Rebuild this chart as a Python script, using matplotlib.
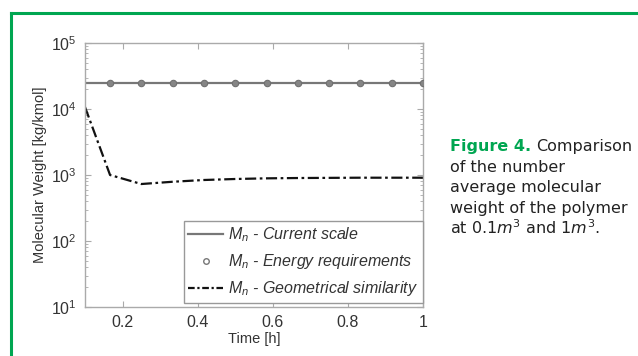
import matplotlib
matplotlib.use("Agg")
import matplotlib.pyplot as plt
from matplotlib.lines import Line2D

plt.rcParams['font.family'] = ['Liberation Sans', 'DejaVu Sans']
plt.rcParams['mathtext.fontset'] = 'custom'
plt.rcParams['mathtext.rm'] = 'Liberation Sans'
plt.rcParams['mathtext.it'] = 'Liberation Sans:italic'

# ---- data ----
time_h = [0.1, 0.1667, 0.25, 0.3333, 0.4167, 0.5, 0.5833, 0.6667, 0.75, 0.8333, 0.9167, 1.0]
mn_current = [24500, 24500, 24500, 24500, 24500, 24500, 24500, 24500, 24500, 24500, 24500, 24500]
time_energy = [0.1667, 0.25, 0.3333, 0.4167, 0.5, 0.5833, 0.6667, 0.75, 0.8333, 0.9167, 1.0]
mn_energy = [24500, 24500, 24500, 24500, 24500, 24500, 24500, 24500, 24500, 24500, 24500]
mn_geom = [10700, 1000, 730, 790, 840, 870, 890, 900, 905, 910, 910, 910]

x_ticks = [0.2, 0.4, 0.6, 0.8, 1.0]
x_ticklabels = ['0.2', '0.4', '0.6', '0.8', '1']
labels = [r'$M_n$ - Current scale', r'$M_n$ - Energy requirements', r'$M_n$ - Geometrical similarity']

fig = plt.figure(figsize=(6.38, 3.56), dpi=100)
green = '#00a651'

# green frame (top and left)
fig.add_artist(Line2D([11/638, 1.0], [1 - 13/356, 1 - 13/356], color=green, lw=2.2, transform=fig.transFigure))
fig.add_artist(Line2D([11/638, 11/638], [0, 1 - 13/356], color=green, lw=2.2, transform=fig.transFigure))

ax = fig.add_axes([85/638, 1 - 307/356, (423 - 85)/638, (307 - 43)/356])
ax.plot(time_h, mn_current, '-', color='#777777', lw=1.6, zorder=2)
ax.plot(time_energy, mn_energy, 'o', color='#858585', ms=4.6, mec='#707070', mew=0.8, zorder=3)
ax.plot(time_h, mn_geom, color='#111111', lw=1.6, dashes=(5, 1.6, 1.2, 1.6), zorder=2)

ax.set_yscale('log')
ax.set_xlim(0.1, 1.0)
ax.set_ylim(10, 1e5)
ax.set_xticks(x_ticks)
ax.set_xticklabels(x_ticklabels)
ax.set_yticks([10, 100, 1000, 1e4, 1e5])
ax.tick_params(which='both', direction='in', top=True, right=True, colors='#aaaaaa',
               labelcolor='#333333', labelsize=11.5)
ax.tick_params(which='major', length=4, pad=6)
ax.tick_params(which='minor', length=2)
for s in ax.spines.values():
    s.set_color('#aaaaaa')
    s.set_linewidth(1.0)
ax.set_ylabel('Molecular Weight [kg/kmol]', fontsize=10.5, color='#333333', labelpad=3)
ax.set_xlabel('Time [h]', fontsize=10.5, color='#333333', labelpad=1)

handles = [
    Line2D([], [], color='#777777', lw=1.6),
    Line2D([], [], ls='none', marker='o', ms=4, mfc='white', mec='#777777', mew=1.0),
    Line2D([], [], color='#111111', lw=1.6, dashes=(3, 1.2, 1, 1.2)),
]
leg = ax.legend(handles, labels, loc='lower right', bbox_to_anchor=(1.0, 0.015),
                fancybox=False, edgecolor='#999999', framealpha=1,
                prop={'style': 'italic', 'size': 11.5}, handlelength=2.2, handletextpad=0.3,
                borderaxespad=0.0, labelspacing=0.5, borderpad=0.3)
leg.get_frame().set_linewidth(1.0)
for t in leg.get_texts():
    t.set_color('#333333')

# caption
cap_font = ['DejaVu Sans']
fs = 11.5
head = fig.text(450/638, 1 - 146/356, 'Figure 4.', color=green, fontweight='bold', fontsize=fs,
                family=cap_font, va='center', ha='left')
fig.canvas.draw()
bb = head.get_window_extent(renderer=fig.canvas.get_renderer())
fig.text((bb.x1 + 5)/638, 1 - 146/356, 'Comparison', color='#222222', fontsize=fs,
         family=cap_font, va='center', ha='left')
cap_lines = ['of the number', 'average molecular', 'weight of the polymer']
for i, line in enumerate(cap_lines):
    fig.text(450/638, 1 - (167 + 20.5 * i)/356, line, color='#222222', fontsize=fs,
             family=cap_font, va='center', ha='left')
fig.text(450/638, 1 - 228/356, r'at 0.1$m^3$ and 1$m^3$.', color='#222222', fontsize=fs,
         family=cap_font, va='center', ha='left', math_fontfamily='dejavusans')

fig.savefig('out.png', dpi=100)
